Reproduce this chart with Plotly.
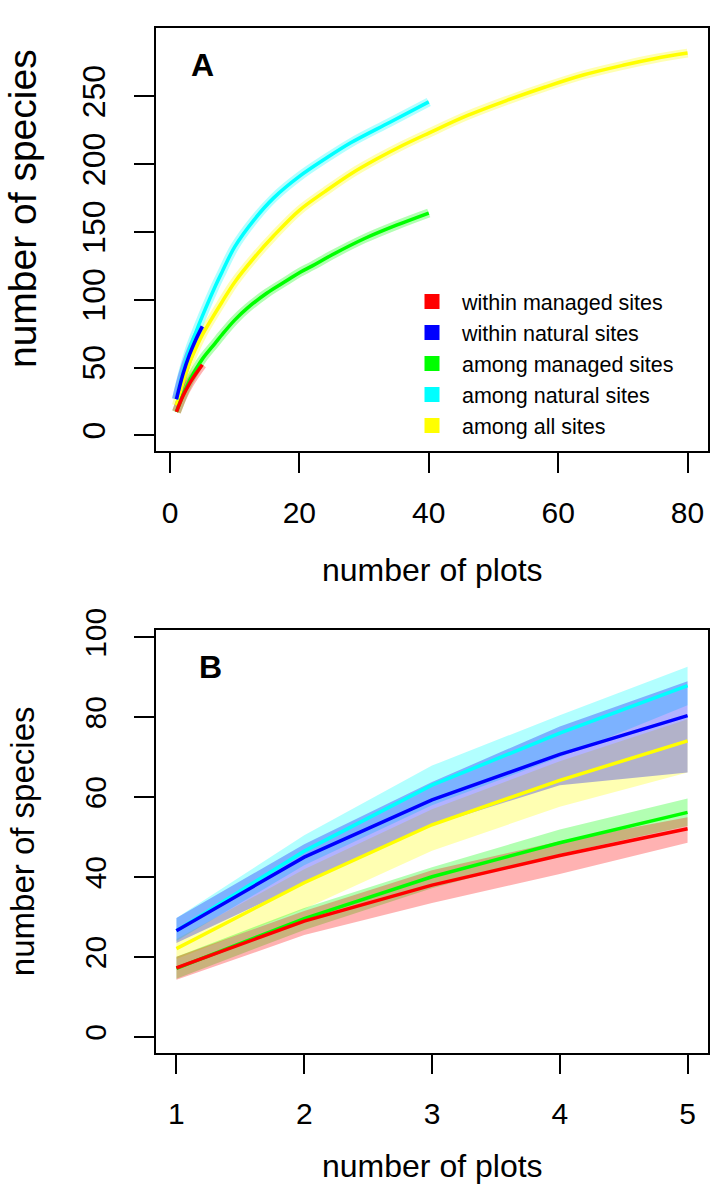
import plotly.graph_objects as go

# ---------------- data ----------------
series_names = ["within managed sites", "within natural sites", "among managed sites",
                "among natural sites", "among all sites"]
series_colors = ["#FF0000", "#0000FF", "#00FF00", "#00FFFF", "#FFFF00"]

# Panel B (1-5 plots): mean and band
plots_b = [1, 2, 3, 4, 5]
red_mean = [17.3, 29.0, 38.0, 45.4, 52.1]
red_up = [20.1, 31.5, 41.7, 49.0, 55.0]
red_lo = [14.3, 25.5, 33.5, 40.8, 48.6]
blue_mean = [26.6, 45.0, 59.3, 70.7, 80.4]
blue_up = [29.8, 48.2, 63.8, 77.7, 89.0]
blue_lo = [23.5, 38.5, 53.0, 63.0, 66.2]
green_mean = [17.2, 29.6, 40.1, 48.6, 56.2]
green_up = [20.1, 32.3, 42.5, 51.9, 59.7]
green_lo = [14.6, 26.8, 37.2, 45.8, 52.8]
cyan_mean = [26.6, 46.5, 63.0, 76.0, 87.9]
cyan_up = [29.8, 50.5, 67.9, 80.5, 92.6]
cyan_lo = [24.0, 43.0, 58.0, 70.0, 83.0]
yellow_mean = [22.1, 38.6, 53.1, 64.2, 74.1]
yellow_up = [24.5, 42.0, 57.0, 69.0, 79.5]
yellow_lo = [19.5, 32.0, 46.6, 57.6, 66.2]

# Panel A (full range of plots), continuation beyond 5 plots
green_x_ext = [7, 8, 10, 12, 15, 18, 20, 22, 25, 30, 35, 40]
green_y_ext = [68, 74, 85, 94, 105, 114, 120, 125, 133, 145, 155, 164]
cyan_x_ext = [7, 8, 10, 13, 16, 20, 24, 28, 34, 40]
cyan_y_ext = [110, 120, 139, 159, 175, 191, 204, 216, 231, 246]
yellow_x_ext = [8, 10, 13, 16, 20, 24, 28, 32, 36, 40, 46, 52, 58, 64, 70, 75, 80]
yellow_y_ext = [98, 113, 131, 147, 166, 180, 193, 204, 214, 223, 236, 247, 257, 266, 273, 278, 282]

xticks_a = [0, 20, 40, 60, 80]
yticks_a = [0, 50, 100, 150, 200, 250]
xticks_b = [1, 2, 3, 4, 5]
yticks_b = [0, 20, 40, 60, 80, 100]

# ---------------- figure ----------------
FONT = "Liberation Sans, Arial, sans-serif"
W, H = 716, 1196


def rgba(hexc, a):
    h = hexc.lstrip("#")
    return "rgba(%d,%d,%d,%s)" % (int(h[0:2], 16), int(h[2:4], 16), int(h[4:6], 16), a)


fig = go.Figure()

# Panel A
a_series = [
    (plots_b + yellow_x_ext, yellow_mean + yellow_y_ext, 4),
    (plots_b + cyan_x_ext, cyan_mean + cyan_y_ext, 3),
    (plots_b + green_x_ext, green_mean + green_y_ext, 2),
    (plots_b, blue_mean, 1),
    (plots_b, red_mean, 0),
]
for xs, ys, i in a_series:
    fig.add_trace(go.Scatter(x=xs, y=ys, mode="lines", xaxis="x", yaxis="y",
                             line=dict(color=rgba(series_colors[i], 0.3), width=9, shape="spline"),
                             showlegend=False, hoverinfo="skip"))
for xs, ys, i in a_series:
    fig.add_trace(go.Scatter(x=xs, y=ys, mode="lines", xaxis="x", yaxis="y",
                             line=dict(color=series_colors[i], width=3.5, shape="spline"),
                             showlegend=False))

# Panel B bands
b_series = [
    (yellow_mean, yellow_up, yellow_lo, 4),
    (cyan_mean, cyan_up, cyan_lo, 3),
    (green_mean, green_up, green_lo, 2),
    (blue_mean, blue_up, blue_lo, 1),
    (red_mean, red_up, red_lo, 0),
]
for m, up, lo, i in b_series:
    fig.add_trace(go.Scatter(x=plots_b + plots_b[::-1], y=up + lo[::-1], mode="lines",
                             xaxis="x2", yaxis="y2", fill="toself",
                             fillcolor=rgba(series_colors[i], 0.3), line=dict(width=0),
                             showlegend=False, hoverinfo="skip"))
for m, up, lo, i in b_series:
    fig.add_trace(go.Scatter(x=plots_b, y=m, mode="lines", xaxis="x2", yaxis="y2",
                             line=dict(color=series_colors[i], width=3.5),
                             showlegend=False))

# legend entries (square keys)
for i, name in enumerate(series_names):
    fig.add_trace(go.Scatter(x=[None], y=[None], mode="markers", xaxis="x", yaxis="y",
                             marker=dict(symbol="square", size=15, color=series_colors[i]),
                             name=name, showlegend=True))

x0, x1 = 156 / W, 708 / W
axis_common = dict(showgrid=False, zeroline=False, showline=True, mirror=True,
                   linecolor="black", linewidth=1.5, ticks="outside", ticklen=20,
                   tickwidth=1.5, tickcolor="black",
                   tickfont=dict(family=FONT, size=30, color="black"))

fig.update_layout(
    width=W, height=H, margin=dict(l=0, r=0, t=0, b=0),
    paper_bgcolor="white", plot_bgcolor="white",
    xaxis=dict(axis_common, domain=[x0, x1], range=[-2.16, 83.16], tickvals=xticks_a,
               anchor="y", ticklabelstandoff=14),
    yaxis=dict(axis_common, domain=[1 - 437 / H, 1 - 6 / H], range=[-11.56, 300.6],
               tickvals=yticks_a, anchor="x", tickangle=-90, ticklabelstandoff=16,
               tickfont=dict(family=FONT, size=32, color="black")),
    xaxis2=dict(axis_common, domain=[x0, x1], range=[0.84, 5.16], tickvals=xticks_b,
                anchor="y2", ticklabelstandoff=14),
    yaxis2=dict(axis_common, domain=[1 - 1050 / H, 1 - 619 / H], range=[-3.92, 101.92],
                tickvals=yticks_b, anchor="x2", tickangle=-90, ticklabelstandoff=16),
    legend=dict(x=402 / W, y=1 - 264 / H, xanchor="left", yanchor="top",
                font=dict(family=FONT, size=21.5, color="black"),
                bgcolor="rgba(0,0,0,0)", itemwidth=50, tracegroupgap=0),
    showlegend=True,
    annotations=[
        dict(text="number of plots", x=(x0 + x1) / 2, y=1 - 558 / H, xref="paper", yref="paper",
             showarrow=False, font=dict(family=FONT, size=32, color="black"),
             xanchor="center", yanchor="middle"),
        dict(text="number of plots", x=(x0 + x1) / 2, y=1 - 1165 / H, xref="paper", yref="paper",
             showarrow=False, font=dict(family=FONT, size=32, color="black"),
             xanchor="center", yanchor="middle"),
        dict(text="number of species", x=22.5 / W, y=1 - 190 / H, xref="paper", yref="paper",
             showarrow=False, textangle=-90, font=dict(family=FONT, size=39, color="black"),
             xanchor="center", yanchor="middle"),
        dict(text="number of species", x=22.5 / W, y=1 - 835 / H, xref="paper", yref="paper",
             showarrow=False, textangle=-90, font=dict(family=FONT, size=33, color="black"),
             xanchor="center", yanchor="middle"),
        dict(text="<b>A</b>", x=202 / W, y=1 - 43.5 / H, xref="paper", yref="paper",
             showarrow=False, font=dict(family=FONT, size=32, color="black"),
             xanchor="center", yanchor="middle"),
        dict(text="<b>B</b>", x=210 / W, y=1 - 657 / H, xref="paper", yref="paper",
             showarrow=False, font=dict(family=FONT, size=32, color="black"),
             xanchor="center", yanchor="middle"),
    ],
)

fig.write_html("out.html",
               config={"displayModeBar": False},
               post_script="document.body.style.margin='0px';"
                           "document.documentElement.style.overflow='hidden';")
